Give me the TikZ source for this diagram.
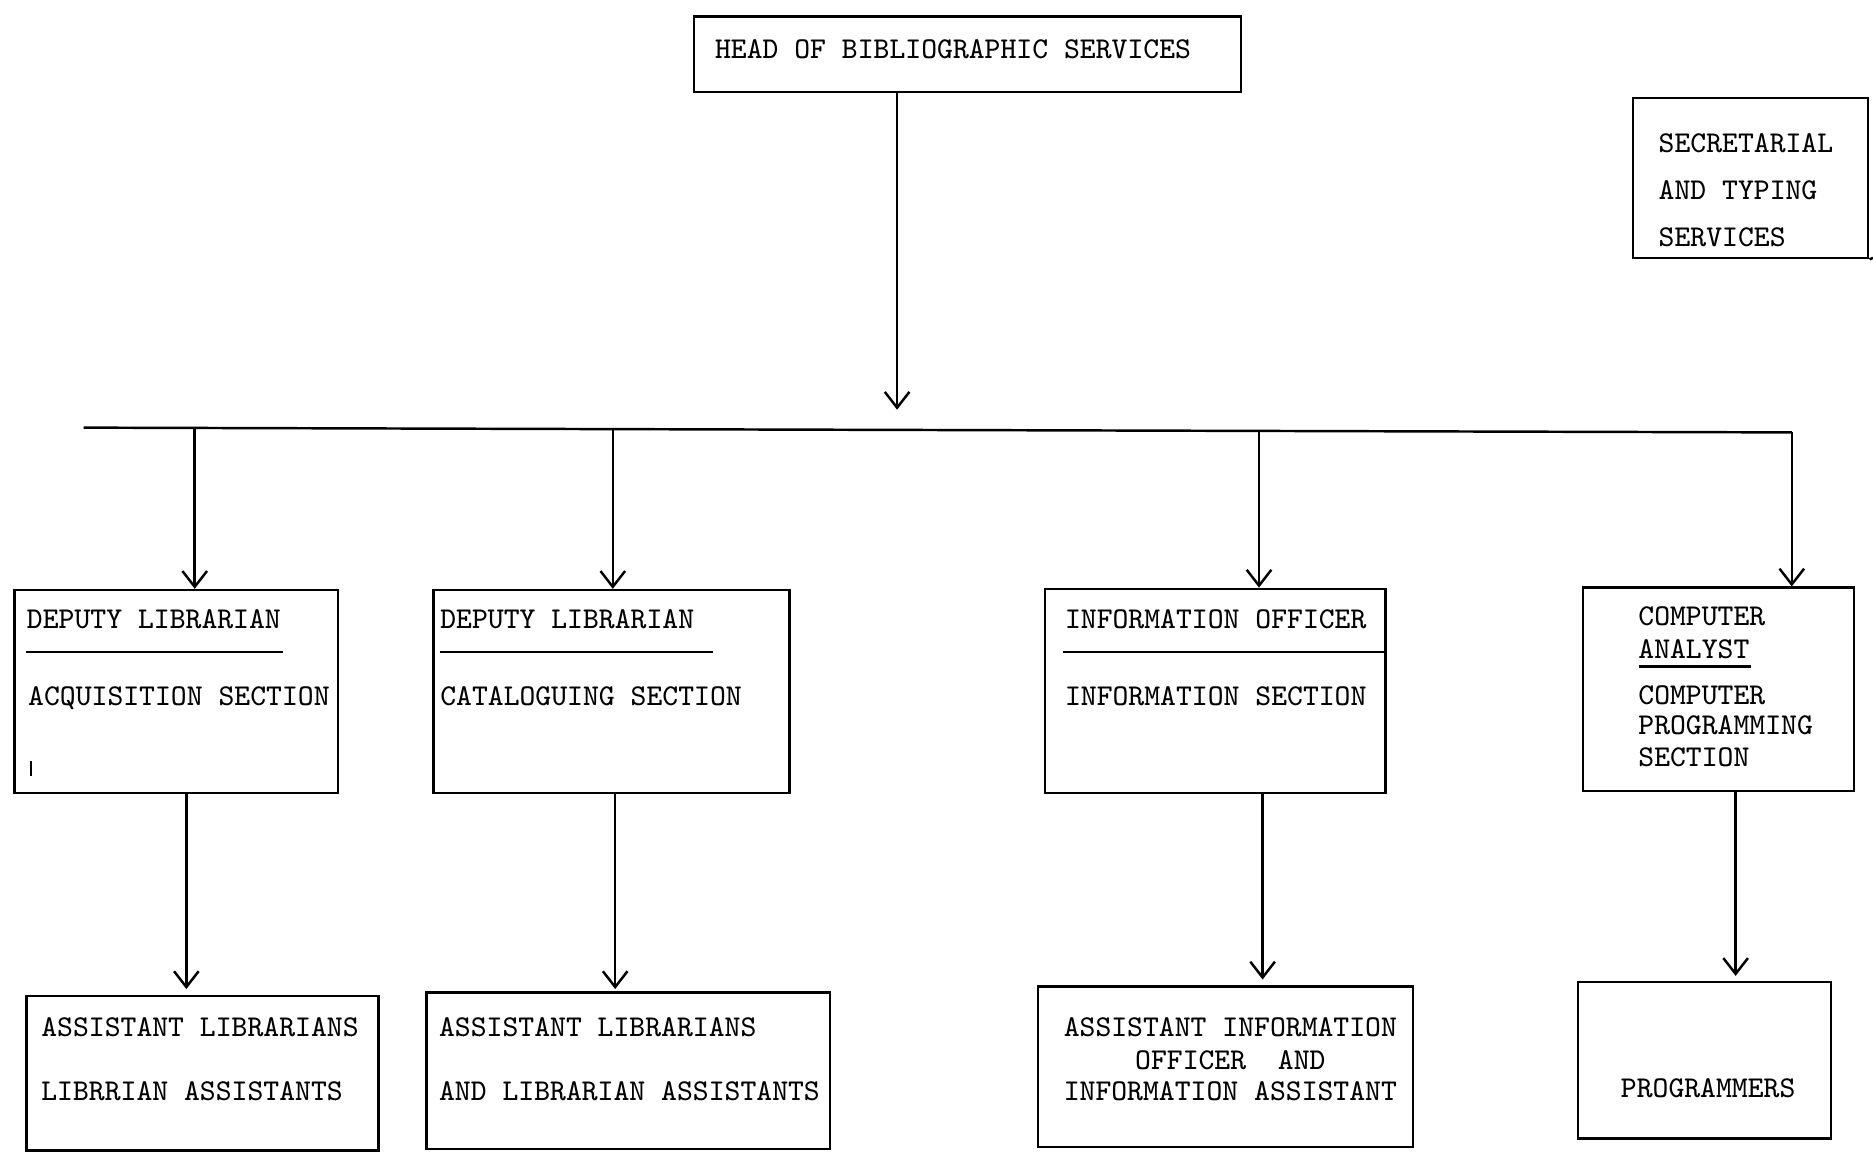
\documentclass[tikz,border=0pt]{standalone}
\usetikzlibrary{arrows.meta,fit}
\begin{document}
\begin{tikzpicture}[x=0.011945cm,y=-0.011945cm,
    every node/.style={font=\fontsize{8.6}{10}\selectfont\ttfamily},
    box/.style={draw,line width=0.7pt,inner sep=0pt},
    lbl/.style={anchor=base west,inner sep=0pt},
    clbl/.style={anchor=base,inner sep=0pt},
    arr/.style={-{Straight Barb[length=4.5pt,width=7pt]},line width=0.7pt}]
    \useasboundingbox (0,0) rectangle (1568,965);
    % head and secretarial office
    \node[box,fit={(581,14) (1039,77)}] (head) {};
    \node[lbl] (headtxt) at (598,49) {HEAD OF BIBLIOGRAPHIC SERVICES};
    \node[box,fit={(1367,82) (1564,216)}] (sec) {};
    \node[lbl] (sec1) at (1388,128) {SECRETARIAL};
    \node[lbl] (sec2) at (1388,167) {AND TYPING};
    \node[lbl] (sec3) at (1388,206) {SERVICES};
    \draw[line width=0.7pt] (sec.south east) -- (1568,216);
    % sections
    \node[box,fit={(12,494) (283,664)}] (depA) {};
    \node[lbl] (depA1) at (22,526) {DEPUTY LIBRARIAN};
    \draw[line width=0.7pt] (22,546) -- (237,546);
    \node[lbl] (depA2) at (23,591) {ACQUISITION SECTION};
    \draw[line width=0.7pt] (26,637) -- (26,650);
    \node[box,fit={(363,494) (661,664)}] (depB) {};
    \node[lbl] (depB1) at (368,526) {DEPUTY LIBRARIAN};
    \draw[line width=0.7pt] (368,546) -- (597,546);
    \node[lbl] (depB2) at (368,591) {CATALOGUING SECTION};
    \node[box,fit={(875,493) (1160,664)}] (infoC) {};
    \node[lbl] (infoC1) at (891,526) {INFORMATION OFFICER};
    \draw[line width=0.7pt] (890,546) -- (infoC.east |- 0,546);
    \node[lbl] (infoC2) at (891,591) {INFORMATION SECTION};
    \node[box,fit={(1325,492) (1552,662)}] (compD) {};
    \node[lbl] (compD1) at (1371,524) {COMPUTER};
    \node[lbl] (compD2) at (1371,551) {ANALYST};
    \draw[line width=0.7pt] (1372,558) -- (1466,558);
    \node[lbl] (compD3) at (1371,590) {COMPUTER};
    \node[lbl] (compD4) at (1371,615) {PROGRAMMING};
    \node[lbl] (compD5) at (1371,642) {SECTION};
    % staff
    \node[box,fit={(22,834) (317,963)}] (asstA) {};
    \node[lbl] (asstA1) at (34,868) {ASSISTANT LIBRARIANS};
    \node[lbl] (asstA2) at (34,921) {LIBRRIAN ASSISTANTS};
    \node[box,fit={(357,831) (695,962)}] (asstB) {};
    \node[lbl] (asstB1) at (367,868) {ASSISTANT LIBRARIANS};
    \node[lbl] (asstB2) at (367,921) {AND LIBRARIAN ASSISTANTS};
    \node[box,fit={(869,826) (1183,960)}] (asstC) {};
    \node[clbl] (asstC1) at (1030,868) {ASSISTANT INFORMATION};
    \node[clbl] (asstC2) at (1030,895) {OFFICER\ \ AND};
    \node[clbl] (asstC3) at (1030,921) {INFORMATION ASSISTANT};
    \node[box,fit={(1321,822) (1533,953)}] (progD) {};
    \node[clbl] (progD1) at (1430,919) {PROGRAMMERS};
    % connectors
    \coordinate (hdtip) at (751,343);
    \draw[arr] (hdtip |- head.south) -- (hdtip);
    \coordinate (busL) at (70,358);
    \coordinate (busR) at (1500,362);
    \draw[line width=0.7pt] (busL) -- (busR);
    \coordinate (bA) at (163,359);
    \coordinate (bB) at (513,359);
    \coordinate (bC) at (1054,361);
    \draw[arr] (bA) -- (bA |- depA.north);
    \draw[arr] (bB) -- (bB |- depB.north);
    \draw[arr] (bC) -- (bC |- infoC.north);
    \draw[arr] (busR) -- (busR |- compD.north);
    \coordinate (dA) at (156,828);
    \coordinate (dB) at (515,828);
    \coordinate (dC) at (1057,820);
    \coordinate (dD) at (1453,817);
    \draw[arr] (dA |- depA.south) -- (dA);
    \draw[arr] (dB |- depB.south) -- (dB);
    \draw[arr] (dC |- infoC.south) -- (dC);
    \draw[arr] (dD |- compD.south) -- (dD);
\end{tikzpicture}
\end{document}
